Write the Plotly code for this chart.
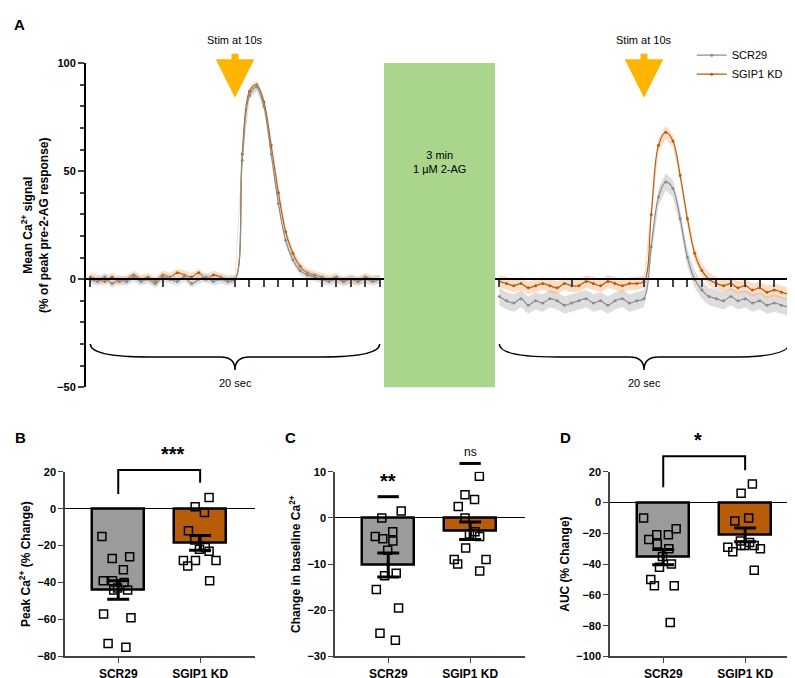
import plotly.graph_objects as go

# ---- panel A traces (time in s, 0.5 s steps) ----
t = [i * 0.5 for i in range(41)]
left_scr = [0, -1, 1, -2, 0, -1, 1, -1, 0, -2, 1, 0, -1, 1, -2, 0, 1, -1, 0, -1,
            0, 55, 85, 89, 80, 58, 35, 18, 9, 4, 2, 1, 0, -1, 0, -1, 0, -1, 0, -1, 0]
left_kd = [1, 0, -1, 1, -1, 0, 2, 0, 1, -1, 2, 1, 3, 2, 1, 3, 0, 2, 1, 0,
           0, 58, 87, 90, 82, 62, 40, 22, 12, 6, 3, 2, 1, 0, 1, -1, 0, -1, 1, 0, 0]
right_scr = [-8, -10, -11, -9, -12, -10, -11, -9, -10, -12, -11, -10, -9, -11, -10, -12, -10, -9, -11, -10,
             -9, 15, 38, 45, 42, 28, 10, 0, -5, -8, -9, -10, -8, -10, -9, -11, -10, -12, -11, -12, -13]
right_kd = [-1, -2, -3, -2, -4, -3, -2, -3, -4, -2, -3, -3, -1, -2, -3, -1, -2, -3, -2, -2,
            -1, 30, 62, 68, 64, 48, 28, 12, 4, 0, -2, -3, -2, -4, -3, -5, -4, -6, -5, -6, -7]
sem_left = 2
sem_right_scr = 4
sem_right_kd = 3

# ---- bar panels ----
groups = ["SCR29", "SGIP1 KD"]
peak_scr = [-15, -27, -26, -33, -39, -39, -43, -44, -44, -59, -57, -75, -73, -40]
peak_kd = [6, 1, -2, -12, -17, -22, -28, -28, -28, -21, -31, -39, -23]
peak_mean = [-44, -18.5]
peak_sem = [5, 4]
base_scr = [1.5, 0, -3, -5, -4, -4.5, -12, -12.5, -15.5, -19.5, -25, -26.5, -7]
base_kd = [9, 4, 5, 2.5, 0, -3, -4, -6.5, -9, -9, -10, -11.5, -3.5]
base_mean = [-10.2, -2.8]
base_sem = [2.6, 1.9]
auc_scr = [-10, -17, -21, -21, -24, -27, -30, -35, -40, -42, -50, -54, -54, -78]
auc_kd = [12, 6, -10, -12, -25, -28, -28, -28, -29, -30, -32, -44, -26]
auc_mean = [-35.5, -21]
auc_sem = [5, 4.5]

GRAY = "#9b9b9d"
ORANGE = "#b85c0a"
LINE_GRAY = "#8c8c8c"
FONT = "Liberation Sans"

fig = go.Figure()

# panel A geometry
A_Y = [1 - 380 / 678, 1 - 50 / 678]
XL = [78 / 795, 376 / 795]
XR = [487 / 795, 785 / 795]
zero_pos = A_Y[0] + 50 / 150 * (A_Y[1] - A_Y[0])


def band(xa, ya, mean, sem, color, fill, name, show):
    fig.add_trace(go.Scatter(x=t + t[::-1], y=[m + sem for m in mean] + [m - sem for m in mean[::-1]],
                             fill="toself", fillcolor=fill, line=dict(width=0), hoverinfo="skip",
                             showlegend=False, xaxis=xa, yaxis=ya))
    fig.add_trace(go.Scatter(x=t, y=mean, mode="lines+markers", line=dict(color=color, width=1.2, shape="spline"),
                             marker=dict(size=3, color=color), name=name, showlegend=show,
                             xaxis=xa, yaxis=ya))


band("x", "y", left_kd, sem_left, ORANGE, "rgba(240,170,110,0.35)", "SGIP1 KD", False)
band("x", "y", left_scr, sem_left, LINE_GRAY, "rgba(180,180,180,0.4)", "SCR29", False)
band("x2", "y2", right_scr, sem_right_scr, LINE_GRAY, "rgba(180,180,180,0.45)", "SCR29", True)
band("x2", "y2", right_kd, sem_right_kd, ORANGE, "rgba(240,170,110,0.4)", "SGIP1 KD", True)

axA = dict(range=[-0.3, 20.3], showgrid=False, zeroline=False, showticklabels=False,
           ticks="outside", tickvals=[0, 5, 10, 11, 12, 13, 14, 15, 16, 17, 18, 19, 20],
           ticklen=7, tickwidth=2, linecolor="black", linewidth=2, showline=True,
           anchor="free", position=zero_pos)
fig.update_layout(
    xaxis=dict(domain=XL, **axA),
    xaxis2=dict(domain=XR, **axA),
    yaxis=dict(domain=A_Y, range=[-50, 100], tickvals=[-50, 0, 50, 100], showgrid=False, zeroline=False,
               showline=True, linecolor="black", linewidth=2, ticks="outside", ticklen=6, tickwidth=2,
               minor=dict(ticks="outside", ticklen=4, dtick=10, tickwidth=1.5),
               tickfont=dict(size=11, family=FONT, color="black", weight="bold"), anchor="x",
               title=dict(text="Mean Ca<sup>2+</sup> signal<br>(% of peak pre-2-AG response)",
                          font=dict(size=12, family=FONT, weight="bold"), standoff=6)),
    yaxis2=dict(domain=A_Y, range=[-50, 100], visible=False, anchor="x2"),
)

shapes = []
for xr in ["x", "x2"]:
    shapes.append(dict(type="path", xref=xr, yref="y" if xr == "x" else "y2",
                       path="M 0,-30 Q 0,-36 4,-36 L 9,-36 Q 10,-36 10,-42 Q 10,-36 11,-36 L 16,-36 Q 20,-36 20,-30",
                       line=dict(color="black", width=1.5)))
shapes.append(dict(type="rect", xref="paper", yref="paper", x0=376 / 795, x1=487 / 795, y0=A_Y[0], y1=A_Y[1],
                   fillcolor="#a9d58c", line=dict(width=0), layer="below"))

ann = [dict(text="3 min<br>1 µM 2-AG", x=(376 + 487) / 2 / 795, y=1 - 135 / 678, xref="paper", yref="paper",
            showarrow=False, font=dict(size=11, family=FONT)),
       dict(text="A", x=0.005, y=1.0, xref="paper", yref="paper", showarrow=False, xanchor="left", yanchor="top",
            font=dict(size=15, family=FONT, weight="bold"))]
for xr, yr in [("x", "y"), ("x2", "y2")]:
    ann.append(dict(text="20 sec", x=10, y=-48, xref=xr, yref=yr, showarrow=False, font=dict(size=11, family=FONT)))
    ann.append(dict(text="Stim at 10s", x=10, y=1 - 18 / 678, xref=xr, yref="paper", showarrow=False,
                    font=dict(size=11, family=FONT)))
    ann.append(dict(x=10, y=84, ax=10, ay=105, xref=xr, yref=yr, axref=xr, ayref=yr, showarrow=True,
                    text="", arrowhead=2, arrowsize=1.1, arrowwidth=7, arrowcolor="#ffb400"))

# bar panels
B_Y = [1 - 654 / 678, 1 - 466 / 678]
panels = [
    ("B", [57 / 795, 247 / 795], peak_scr, peak_kd, peak_mean, peak_sem, [-80, 20], 20, "Peak Ca<sup>2+</sup> (% Change)"),
    ("C", [327 / 795, 517 / 795], base_scr, base_kd, base_mean, base_sem, [-30, 10], 10, "Change in baseline Ca<sup>2+</sup>"),
    ("D", [602 / 795, 792 / 795], auc_scr, auc_kd, auc_mean, auc_sem, [-100, 20], 20, "AUC (% Change)"),
]
ranges = {}
for i, (lab, dom, s_pts, k_pts, mean, sem, rng, dt, title) in enumerate(panels):
    n = i + 3
    xa, ya = f"x{n}", f"y{n}"
    ranges[ya] = rng
    fig.add_trace(go.Bar(x=[0, 1], y=mean, width=0.63, marker=dict(color=[GRAY, ORANGE], line=dict(color="black", width=2.5)),
                         showlegend=False, xaxis=xa, yaxis=ya))
    for k, pts in enumerate([s_pts, k_pts]):
        fig.add_trace(go.Box(x=[k] * len(pts), y=pts, boxpoints="all", jitter=1, pointpos=0,
                             fillcolor="rgba(0,0,0,0)", line=dict(width=0, color="rgba(0,0,0,0)"),
                             marker=dict(symbol="square-open", size=8, color="black", line=dict(width=1.5)),
                             showlegend=False, hoverinfo="skip", xaxis=xa, yaxis=ya, width=0.5))
    fig.add_trace(go.Scatter(x=[0, 1], y=mean, mode="markers", marker=dict(size=1, color="black"),
                             error_y=dict(type="data", array=sem, color="black", thickness=3, width=11),
                             showlegend=False, xaxis=xa, yaxis=ya))
    fig.layout[f"xaxis{n}"] = dict(domain=dom, range=[-0.65, 1.67], tickvals=[0, 1], ticktext=groups,
                                   showline=True, linecolor="#444", linewidth=1.5, ticks="outside", ticklen=5,
                                   zeroline=False, showgrid=False, anchor=ya,
                                   tickfont=dict(size=12, family=FONT, weight="bold", color="black"))
    fig.layout[f"yaxis{n}"] = dict(domain=B_Y, range=rng, dtick=dt, showline=True, linecolor="#444", linewidth=1.5,
                                   ticks="outside", ticklen=5, zeroline=True, zerolinecolor="black", zerolinewidth=1,
                                   showgrid=False, anchor=xa,
                                   tickfont=dict(size=11, family=FONT, weight="bold", color="black"),
                                   title=dict(text=title, font=dict(size=12, family=FONT, weight="bold"), standoff=4))
    ann.append(dict(text=lab, x=dom[0] - 52 / 795, y=1 - 420 / 678, xref="paper", yref="paper", showarrow=False,
                    xanchor="left", yanchor="top", font=dict(size=15, family=FONT, weight="bold")))


def py(ya, v):
    r0, r1 = ranges[ya]
    return B_Y[0] + (v - r0) / (r1 - r0) * (B_Y[1] - B_Y[0])


def px(dom, v):
    return dom[0] + (v + 0.65) / 2.32 * (dom[1] - dom[0])


# significance marks
def bracket(p, ya, y_top, y_left, y_right, txt):
    dom = panels[p][1]
    x0, x1 = px(dom, 0), px(dom, 1)
    yt = py(ya, y_top)
    shapes.append(dict(type="path", xref="paper", yref="paper",
                       path=f"M {x0},{py(ya, y_left)} L {x0},{yt} L {x1},{yt} L {x1},{py(ya, y_right)}",
                       line=dict(color="black", width=2)))
    ann.append(dict(text=txt, x=(x0 + x1) / 2, y=yt + 0.005, xref="paper", yref="paper", yanchor="bottom",
                    showarrow=False, font=dict(size=20, family=FONT, weight="bold")))


bracket(0, "y3", 21, 8, 14, "***")
bracket(2, "y5", 30, 10, 21, "*")
for x, y, txt, sz in [(0, 4.6, "**", 20), (1, 11.8, "ns", 12)]:
    shapes.append(dict(type="line", xref="x4", yref="paper", x0=x - 0.13, x1=x + 0.13, y0=py("y4", y), y1=py("y4", y),
                       line=dict(color="black", width=3)))
    ann.append(dict(text=txt, x=x, y=py("y4", y) + 0.004, xref="x4", yref="paper", yanchor="bottom", showarrow=False,
                    font=dict(size=sz, family=FONT, weight="bold" if sz > 15 else "normal")))

fig.update_layout(
    width=795, height=678, margin=dict(l=0, r=0, t=0, b=0), plot_bgcolor="white", paper_bgcolor="white",
    shapes=shapes, annotations=ann, barmode="overlay", bargap=0,
    font=dict(family=FONT, color="black"),
    legend=dict(x=0.86, y=0.96, xanchor="left", yanchor="top", bgcolor="rgba(0,0,0,0)",
                font=dict(size=11, family=FONT), tracegroupgap=2),
)

fig.write_html("out.html")
